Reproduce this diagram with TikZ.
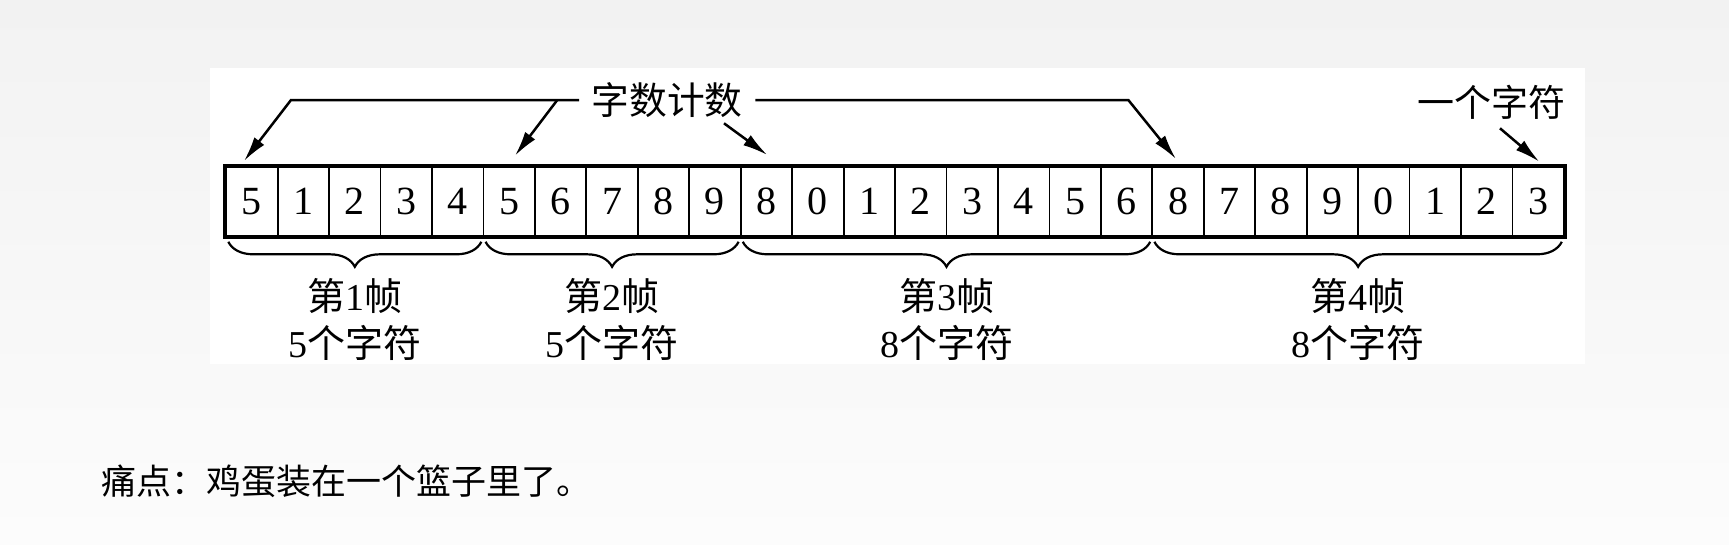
\documentclass[tikz,border=0pt]{standalone}
\usepackage{fontspec}
\setmainfont{Liberation Serif}
\newfontfamily\cjk{Noto Sans CJK SC}
\usetikzlibrary{arrows.meta,decorations.pathreplacing,calc}
\newcommand{\zh}[1]{{\cjk #1}}
\definecolor{bgtop}{HTML}{F2F2F2}
\definecolor{bgbot}{HTML}{FCFCFC}
\begin{document}
\begin{tikzpicture}[x=1pt,y=-1pt,
  cell/.style={draw, line width=1.8pt, minimum width=51.45pt, minimum height=69pt,
    inner sep=0pt, anchor=north west, font=\fontsize{40}{40}\selectfont},
  arr/.style={line width=2.5pt, -{Latex[length=25pt,width=12.5pt]}},
  bracedeco/.style={decorate, decoration={brace, amplitude=25pt, mirror}, line width=2.2pt},
  lab/.style={align=center, inner sep=0pt, font=\fontsize{38}{47}\selectfont},
  cjktext/.style={inner sep=0pt, font=\cjk\fontsize{#1}{#1}\selectfont}
]
\useasboundingbox (0,0) rectangle (1729,544);
\shade[top color=bgtop, bottom color=bgbot] (0,0) rectangle (1729,544);
\fill[white] (209.5,68) rectangle (1585,364);

% cells
\foreach \d [count=\i] in {5,1,2,3,4,5,6,7,8,9,8,0,1,2,3,4,5,6,8,7,8,9,0,1,2,3}
  \node[cell] (c\i) at ({225.3+(\i-1)*51.45},166.3) {\d};
\draw[line width=4pt] (c1.north west) rectangle (c26.south east);

% braces
\draw[bracedeco] ($(c1.south west)+(3,4.7)$) -- ($(c5.south east)+(-3,4.7)$);
\draw[bracedeco] ($(c6.south west)+(3,4.7)$) -- ($(c10.south east)+(-3,4.7)$);
\draw[bracedeco] ($(c11.south west)+(3,4.7)$) -- ($(c18.south east)+(-3,4.7)$);
\draw[bracedeco] ($(c19.south west)+(3,4.7)$) -- ($(c26.south east)+(-3,4.7)$);

% frame labels
\node[lab] (l1) at ($($(c1.south west)!0.5!(c5.south east)$)+(0,82)$) {\zh{第}1\zh{帧}\\5\zh{个字符}};
\node[lab] (l2) at ($($(c6.south west)!0.5!(c10.south east)$)+(0,82)$) {\zh{第}2\zh{帧}\\5\zh{个字符}};
\node[lab] (l3) at ($($(c11.south west)!0.5!(c18.south east)$)+(0,82)$) {\zh{第}3\zh{帧}\\8\zh{个字符}};
\node[lab] (l4) at ($($(c19.south west)!0.5!(c26.south east)$)+(0,82)$) {\zh{第}4\zh{帧}\\8\zh{个字符}};

% title and arrows
\node[cjktext=37.75, inner xsep=12.5pt] (title) at (667.2,100.3) {字数计数};
\node[cjktext=37] (one) at (1491,102.5) {一个字符};

\coordinate (k1) at (291,100);
\coordinate (t1) at (244,161);
\coordinate (k2) at (557.3,100);
\coordinate (t2) at (515,155.7);
\coordinate (k3) at (1128.3,100);
\coordinate (t3) at (1176,159);
\coordinate (s4) at (724,123.3);
\coordinate (t4) at (767.3,155);
\coordinate (s5) at (1500,128.3);
\coordinate (t5) at (1539.3,161.7);

\draw[arr] (title.west |- k1) -- (k1) -- (t1);
\draw[arr] (k2) -- (t2);
\draw[arr] (title.east |- k3) -- (k3) -- (t3);
\draw[arr] (s4) -- (t4);
\draw[arr] (s5) -- (t5);

% bottom text
\node[cjktext=35, anchor=west] (pain) at (101.7,481) {痛点：鸡蛋装在一个篮子里了。};
\end{tikzpicture}
\end{document}
